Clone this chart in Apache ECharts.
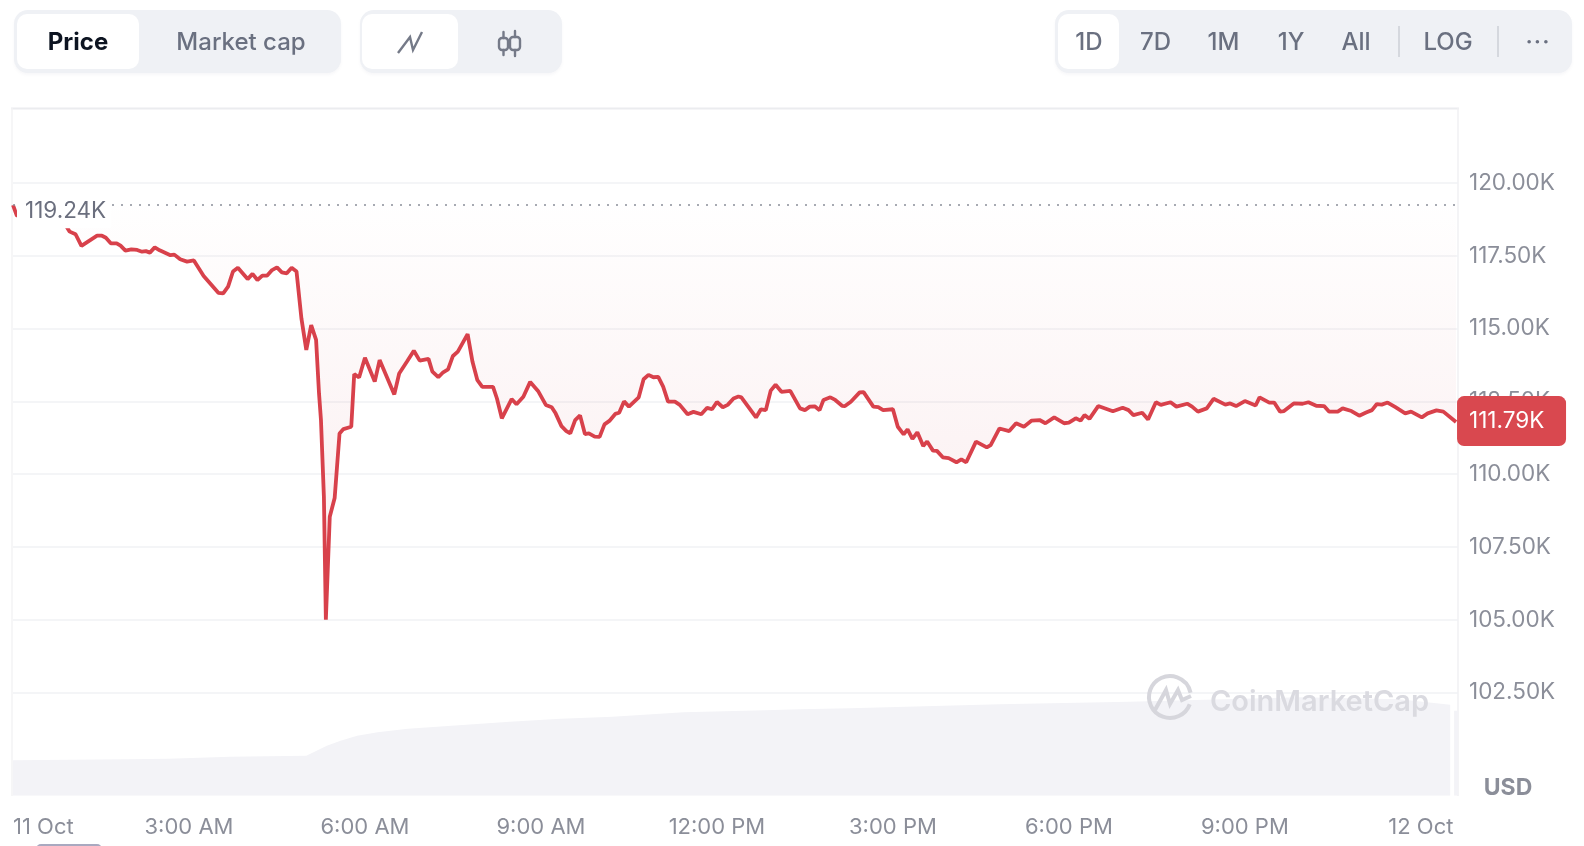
<!DOCTYPE html>
<html>
<head>
<meta charset="utf-8">
<title>Price chart</title>
<script src="https://cdn.jsdelivr.net/npm/echarts@6/dist/echarts.min.js"></script>
<style>
  html, body { margin: 0; padding: 0; background: #fff; overflow: hidden; }
  body { font-family: Inter, "Noto Sans", sans-serif; }
  #chart { position: absolute; left: 0; top: 0; width: 1584px; height: 846px; }
  .group { position: absolute; top: 10px; height: 63px; background: #eff1f5; border-radius: 14px; box-shadow: 0 2px 3px rgba(90,100,130,.05); }
  .on { position: absolute; top: 4px; height: 55px; background: #fff; border-radius: 10px; }
  .btn { position: absolute; top: 11px; height: 63px; line-height: 62px; font-size: 24px; font-weight: 500;
         color: #6a7080; transform: translateX(-50%); white-space: nowrap; }
  .sep { position: absolute; top: 26px; height: 31px; width: 1.5px; background: #d5d8de; }
  svg { position: absolute; left: 0; top: 0; }
</style>
</head>
<body>
<div id="chart"></div>

<div class="group" style="left:14px;width:327px"><div class="on" style="left:3px;width:122px"></div></div>
<div class="group" style="left:360px;width:202px"><div class="on" style="left:2px;width:96px"></div></div>
<div class="group" style="left:1055px;width:517px"><div class="on" style="left:3px;width:61px"></div></div>

<div class="btn" style="left:78px;color:#0d1421;font-weight:700">Price</div>
<div class="btn" style="left:241px">Market cap</div>
<div class="btn" style="left:1089px">1D</div>
<div class="btn" style="left:1155.5px">7D</div>
<div class="btn" style="left:1223.5px">1M</div>
<div class="btn" style="left:1291px">1Y</div>
<div class="btn" style="left:1356px">All</div>
<div class="sep" style="left:1398px"></div>
<div class="btn" style="left:1448px">LOG</div>
<div class="sep" style="left:1497px"></div>
<div class="btn" style="left:1538px;top:11px;letter-spacing:1px">···</div>

<svg width="1584" height="100" fill="none" stroke="#757a88" stroke-width="2.4">
  <polyline points="398,53 410,37 413,50 422,32" />
  <path d="M503.5 32V38M503.5 50V55M515 31V37M515 50V56" stroke-linecap="round" />
  <rect x="499" y="38" width="9" height="12" rx="3" />
  <rect x="510" y="37" width="10" height="13" rx="3" />
</svg>

<script>
// minutes after 11 Oct 00:00
const priceMinutes = [
  0, 4, 17, 33, 48, 58, 64, 70, 79, 86, 91, 95, 100, 106, 110, 115, 121, 127, 132, 136, 140, 145, 150, 161, 165,
  171, 178, 185, 195, 210, 215, 220, 225, 230, 240, 245, 250, 255, 260, 265, 270, 275, 280, 285, 290, 295, 300,
  305, 310, 313, 315, 318, 320, 324, 329, 334, 338, 346, 349, 354, 360, 370, 375, 390, 395, 403, 410, 416, 425,
  429, 435, 440, 445, 450, 455, 465, 470, 475, 480, 491, 495, 500, 510, 515, 522, 529, 537, 545, 551, 555, 561,
  566, 570, 575, 580, 585, 589, 595, 600, 605, 610, 616, 620, 625, 630, 640, 645, 650, 655, 660, 665, 670, 677,
  682, 690, 696, 704, 710, 715, 720, 726, 731, 737, 742, 745, 760, 765, 770, 775, 780, 786, 795, 805, 810, 815,
  820, 825, 829, 836, 841, 848, 851, 857, 859, 866, 870, 880, 885, 890, 900, 905, 911, 915, 920, 925, 931, 935,
  941, 945, 951, 957, 965, 970, 975, 985, 996, 1000, 1009, 1019, 1026, 1034, 1042, 1050, 1056, 1065, 1075, 1080,
  1087, 1092, 1096, 1101, 1110, 1125, 1135, 1141, 1146, 1155, 1161, 1169, 1174, 1184, 1190, 1201, 1206, 1212,
  1221, 1228, 1240, 1245, 1251, 1260, 1271, 1275, 1285, 1290, 1296, 1300, 1310, 1319, 1325, 1333, 1341, 1346,
  1355, 1360, 1369, 1377, 1384, 1390, 1395, 1400, 1406, 1414, 1424, 1430, 1441, 1447, 1456, 1463, 1476
];
const priceValues = [
  119.24, 118.87, 119.0, 119.14, 118.87, 118.33, 118.24, 117.84, 118.04, 118.19, 118.19, 118.12, 117.93, 117.93,
  117.85, 117.68, 117.72, 117.7, 117.64, 117.66, 117.61, 117.79, 117.69, 117.52, 117.54,
  117.38, 117.3, 117.34, 116.81, 116.23, 116.21, 116.44, 116.96, 117.09, 116.7, 116.88, 116.67, 116.82, 116.82,
  117.01, 117.1, 116.93, 116.9, 117.09, 116.96, 115.35, 114.27,
  115.12, 114.61, 112.78, 111.86, 109.23, 105.0, 108.54, 109.18, 111.4, 111.55, 111.63, 113.44, 113.32, 114.0,
  113.18, 113.92, 112.74, 113.46, 113.87, 114.24, 113.9, 113.96,
  113.52, 113.33, 113.5, 113.6, 114.06, 114.21, 114.81, 113.86, 113.23, 113.0, 113.0, 112.6, 111.92, 112.58,
  112.4, 112.66, 113.17, 112.86, 112.38, 112.3, 112.09, 111.65,
  111.48, 111.4, 111.86, 112.02, 111.38, 111.4, 111.29, 111.28, 111.71, 111.83, 112.07, 112.11, 112.5, 112.32,
  112.64, 113.26, 113.41, 113.33, 113.34, 113.01, 112.49, 112.49,
  112.38, 112.06, 112.14, 112.06, 112.28, 112.23, 112.48, 112.3, 112.38, 112.6, 112.67, 112.64, 111.95, 112.23,
  112.2, 112.87, 113.07, 112.83, 112.86, 112.26, 112.2, 112.32,
  112.33, 112.2, 112.55, 112.64, 112.55, 112.35, 112.34, 112.49, 112.51, 112.81, 112.82, 112.32, 112.3, 112.2,
  112.23, 111.63, 111.37, 111.54, 111.21, 111.44, 110.97, 111.12,
  110.81, 110.8, 110.58, 110.55, 110.41, 110.51, 110.41, 111.12, 110.92, 111.0, 111.57, 111.48, 111.75, 111.63,
  111.84, 111.86, 111.75, 111.95, 111.75, 111.77,
  111.92, 111.84, 112.03, 111.9, 112.34, 112.16, 112.28, 112.2, 112.03, 112.11, 111.88, 112.47, 112.38, 112.47,
  112.32, 112.42, 112.32, 112.15,
  112.26, 112.59, 112.39, 112.43, 112.34, 112.51, 112.36, 112.64, 112.46, 112.46, 112.15, 112.17, 112.43, 112.42,
  112.47, 112.35, 112.34, 112.15,
  112.15, 112.26, 112.17, 112.01, 112.12, 112.2, 112.41, 112.39, 112.46, 112.3, 112.09, 112.15, 111.95, 112.09,
  112.19, 112.15, 111.79
];
const volumeMinutes = [0, 118, 159, 222, 300, 321, 335, 352, 373, 404, 456, 508, 560, 613, 686, 769, 805, 856, 1009, 1142, 1316, 1418, 1470, 1471, 1474, 1478];
const volumeValues = [71, 73, 74, 78, 80, 100, 110, 120, 127, 134, 141, 148, 154, 158, 167, 171, 173, 175, 183, 188, 197, 193, 182, null, 170, 170];
const priceTicks = ['120.00K', '117.50K', '115.00K', '112.50K', '110.00K', '107.50K', '105.00K', '102.50K'];
const timeLabels = ['11 Oct', '3:00 AM', '6:00 AM', '9:00 AM', '12:00 PM', '3:00 PM', '6:00 PM', '9:00 PM', '12 Oct'];
const openPrice = 119.24;
const lastPrice = 111.79;

const RED = '#d8414b';
const labelFont = { fontFamily: 'Inter', fontSize: 22.5, color: '#8b8e99' };

const chart = echarts.init(document.getElementById('chart'));
chart.setOption({
  animation: false,
  backgroundColor: '#fff',
  grid: [
    { left: 13, right: 126, top: 110.2, bottom: 80.6 },
    { left: 13, right: 126, top: 695.7, bottom: 50.3 }
  ],
  xAxis: [
    {
      type: 'value', gridIndex: 0, min: 0, max: 1478, interval: 180,
      axisLine: { show: false }, axisTick: { show: false }, axisLabel: { show: false }, splitLine: { show: false }
    },
    {
      type: 'value', gridIndex: 1, min: 0, max: 1478, interval: 180,
      axisLine: { show: false }, axisTick: { show: false }, splitLine: { show: false },
      axisLabel: {
        ...labelFont,
        fontSize: 22,
        margin: 21,
        showMaxLabel: false,
        alignMinLabel: 'left',
        formatter: v => timeLabels[v / 180] || ''
      }
    }
  ],
  yAxis: [
    {
      type: 'value', gridIndex: 0, position: 'right', min: 100, max: 122.5, interval: 2.5,
      axisLine: { show: false }, axisTick: { show: false },
      axisLabel: {
        ...labelFont,
        margin: 11,
        padding: [4, 0, 0, 0],
        formatter: v => priceTicks[Math.round((120 - v) / 2.5)] || ''
      },
      splitLine: { showMinLine: false, showMaxLine: false, lineStyle: { color: '#f1f2f4', width: 1.5 } }
    },
    {
      type: 'value', gridIndex: 1, min: 0, max: 200, show: false
    }
  ],
  graphic: [
    // chart frame
    { type: 'line', z: 0, shape: { x1: 11, y1: 108.5, x2: 1459, y2: 108.5 }, style: { stroke: '#ebecef', lineWidth: 2 } },
    { type: 'line', z: 0, shape: { x1: 12, y1: 108, x2: 12, y2: 796 }, style: { stroke: '#f3f3f5', lineWidth: 1.5 } },
    { type: 'line', z: 0, shape: { x1: 1458, y1: 108, x2: 1458, y2: 796 }, style: { stroke: '#f0f0f3', lineWidth: 1.5 } },
    // watermark
    {
      type: 'arc', z: 5, silent: true,
      shape: { cx: 1170, cy: 697, r: 21, startAngle: 0.35, endAngle: 6.08 },
      style: { stroke: '#d6d6dc', lineWidth: 4, fill: null }
    },
    {
      type: 'polyline', z: 5, silent: true,
      shape: { points: [[1155, 710], [1166, 690], [1170, 704], [1178, 690], [1182, 700], [1191, 696]] },
      style: { stroke: '#d6d6dc', lineWidth: 4, fill: null }
    },
    {
      type: 'text', z: 5, silent: true, x: 1210, y: 702,
      style: { text: 'CoinMarketCap', fontFamily: 'Inter', fontSize: 29, fontWeight: 600, fill: '#dadae0', textVerticalAlign: 'middle' }
    },
    {
      type: 'text', z: 5, x: 1508, y: 788,
      style: { text: 'USD', fontFamily: 'Inter', fontSize: 23, fontWeight: 700, fill: '#8b8e99', textAlign: 'center', textVerticalAlign: 'middle' }
    },
    { type: 'rect', z: 5, shape: { x: 36, y: 844, width: 66, height: 10, r: 6 }, style: { fill: '#a9a9c0' } }
  ],
  series: [
    {
      type: 'line',
      xAxisIndex: 1,
      yAxisIndex: 1,
      symbol: 'none',
      connectNulls: false,
      lineStyle: { width: 0 },
      areaStyle: { color: '#f3f3f7', opacity: 1 },
      z: 1,
      data: volumeMinutes.map((m, i) => [m, volumeValues[i]])
    },
    {
      type: 'line',
      xAxisIndex: 0,
      yAxisIndex: 0,
      symbol: 'none',
      clip: false,
      z: 3,
      lineStyle: { color: RED, width: 3.8 },
      areaStyle: {
        origin: openPrice,
        color: {
          type: 'linear', x: 0, y: 0, x2: 0, y2: 1,
          colorStops: [
            { offset: 0, color: 'rgba(205,70,85,0.005)' },
            { offset: 0.6, color: 'rgba(205,70,85,0.09)' },
            { offset: 1, color: 'rgba(205,70,85,0.09)' }
          ]
        }
      },
      data: priceMinutes.map((m, i) => [m, priceValues[i]]),
      markLine: {
        silent: true,
        symbol: ['none', 'none'],
        lineStyle: { color: '#8b8e99', type: [2, 7], width: 1.5 },
        label: {
          position: 'insideStartBottom',
          formatter: '119.24K',
          fontFamily: 'Inter',
          fontSize: 22.5,
          color: '#6b6f7e',
          backgroundColor: '#fff',
          padding: [5, 5, 5, 8],
          distance: 0,
          offset: [4, -10]
        },
        data: [{ yAxis: openPrice }]
      },
      markPoint: {
        silent: true,
        symbol: 'circle',
        symbolSize: 0,
        label: {
          position: 'right',
          distance: 1,
          offset: [0, -1],
          formatter: '111.79K',
          fontFamily: 'Inter',
          fontSize: 22.5,
          color: '#fff',
          backgroundColor: '#d9484f',
          borderRadius: 7,
          width: 85,
          height: 46,
          lineHeight: 46,
          padding: [4, 12, 0, 12]
        },
        data: [{ coord: [priceMinutes[priceMinutes.length - 1], lastPrice] }]
      }
    }
  ]
});
</script>
</body>
</html>
